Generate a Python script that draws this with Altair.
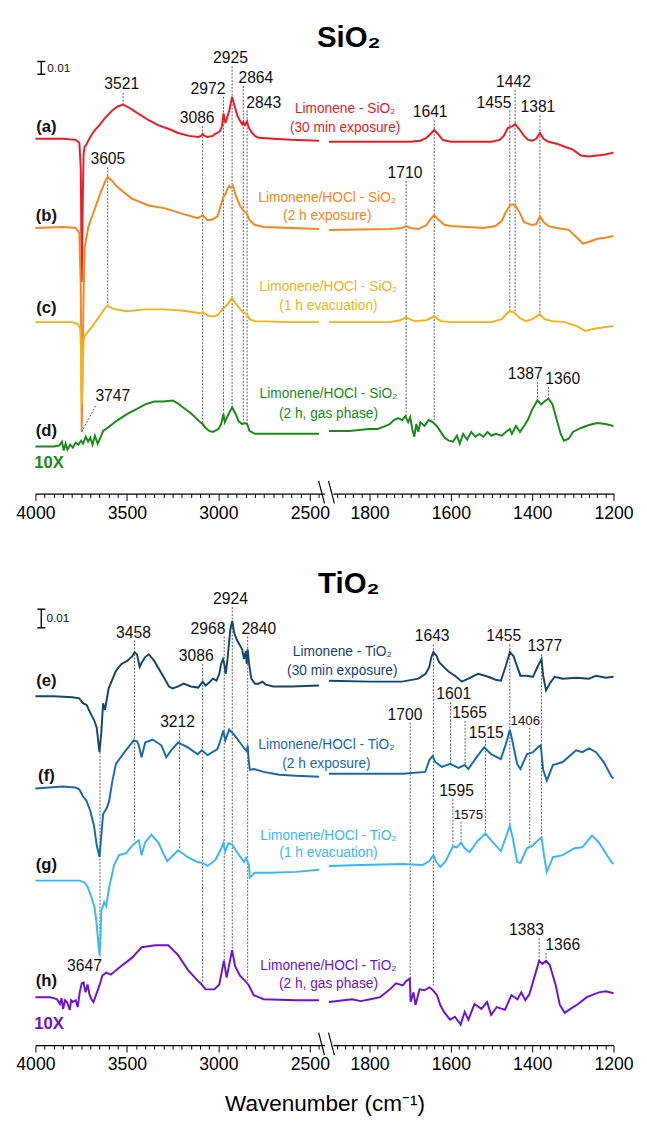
import altair as alt
import pandas as pd

# ---------------- SiO2 spectra (relative absorbance) ----------------
a_l_wn = [4000, 3850, 3780, 3760, 3752, 3747, 3742, 3737, 3731, 3725, 3700, 3675, 3650, 3620, 3580, 3550, 3521, 3490, 3440, 3380, 3330, 3270, 3220, 3160, 3110, 3095, 3086, 3075, 3060, 3030, 3020, 3005, 2990, 2980, 2972, 2962, 2950, 2940, 2925, 2912, 2895, 2880, 2870, 2864, 2855, 2843, 2835, 2820, 2800, 2780, 2700, 2600, 2450]
a_l_ab = [0, 0, -0.0008, -0.0031, -0.0238, -0.1123, -0.0546, -0.0123, -0.0062, -0.0054, 0.0015, 0.0069, 0.0108, 0.0162, 0.0223, 0.0254, 0.0269, 0.0246, 0.0200, 0.0146, 0.0108, 0.0077, 0.0046, 0.0023, 0.0015, 0.0023, 0.0038, 0.0023, 0.0015, 0.0023, 0.0038, 0.0046, 0.0062, 0.0100, 0.0200, 0.0123, 0.0177, 0.0223, 0.0331, 0.0262, 0.0177, 0.0138, 0.0115, 0.0131, 0.0108, 0.0138, 0.0092, 0.0054, 0.0023, 0.0008, 0, -0.0008, -0.0015]
a_r_wn = [1900, 1822, 1700, 1675, 1660, 1650, 1641, 1632, 1620, 1600, 1500, 1480, 1470, 1460, 1455, 1448, 1442, 1432, 1420, 1410, 1400, 1390, 1381, 1372, 1360, 1340, 1320, 1300, 1280, 1260, 1240, 1220, 1200]
a_r_ab = [-0.0023, -0.0023, -0.0023, -0.0015, 0.0008, 0.0038, 0.0069, 0.0038, -0.0008, -0.0023, -0.0023, -0.0008, 0.0023, 0.0085, 0.0092, 0.0100, 0.0115, 0.0077, 0.0023, -0.0008, -0.0015, 0, 0.0046, 0, -0.0023, -0.0038, -0.0062, -0.0085, -0.0131, -0.0138, -0.0131, -0.0123, -0.0108]

b_l_wn = [4000, 3850, 3780, 3760, 3752, 3747, 3742, 3737, 3731, 3710, 3688, 3650, 3620, 3605, 3580, 3559, 3520, 3473, 3382, 3290, 3204, 3113, 3095, 3086, 3075, 3059, 3030, 3005, 2985, 2972, 2960, 2950, 2940, 2930, 2920, 2905, 2880, 2864, 2845, 2830, 2800, 2750, 2600, 2450]
b_l_ab = [0, 0.0008, 0, -0.0038, -0.0462, -0.1600, -0.1077, -0.0538, -0.0154, 0.0015, 0.0100, 0.0254, 0.0362, 0.0400, 0.0369, 0.0331, 0.0285, 0.0231, 0.0177, 0.0154, 0.0115, 0.0077, 0.0092, 0.0100, 0.0085, 0.0062, 0.0069, 0.0092, 0.0185, 0.0246, 0.0269, 0.0308, 0.0331, 0.0315, 0.0331, 0.0254, 0.0169, 0.0138, 0.0115, 0.0062, 0.0023, 0.0008, 0, -0.0008]
b_r_wn = [1900, 1750, 1720, 1710, 1700, 1680, 1660, 1650, 1641, 1630, 1615, 1600, 1560, 1520, 1490, 1475, 1465, 1455, 1448, 1440, 1430, 1420, 1400, 1390, 1381, 1372, 1360, 1340, 1310, 1290, 1275, 1260, 1240, 1220, 1200]
b_r_ab = [-0.0015, -0.0008, 0, 0.0015, 0, -0.0008, 0.0023, 0.0069, 0.0100, 0.0062, 0.0023, 0.0015, 0.0008, 0, 0.0015, 0.0054, 0.0123, 0.0177, 0.0185, 0.0169, 0.0115, 0.0046, 0.0023, 0.0031, 0.0092, 0.0046, 0.0015, 0, -0.0015, -0.0077, -0.0123, -0.0108, -0.0085, -0.0077, -0.0062]

c_l_wn = [4000, 3800, 3770, 3755, 3750, 3747, 3742, 3737, 3731, 3688, 3650, 3620, 3605, 3580, 3560, 3500, 3400, 3300, 3200, 3100, 3086, 3050, 3020, 3000, 2972, 2950, 2925, 2910, 2880, 2864, 2843, 2830, 2800, 2600, 2450]
c_l_ab = [0, 0, -0.0015, -0.0046, -0.0223, -0.0646, -0.0415, -0.0146, -0.0108, -0.0031, 0.0046, 0.0108, 0.0131, 0.0108, 0.0100, 0.0085, 0.0100, 0.0100, 0.0092, 0.0069, 0.0077, 0.0046, 0.0046, 0.0062, 0.0108, 0.0138, 0.0192, 0.0154, 0.0100, 0.0077, 0.0062, 0.0023, 0.0008, 0, 0]
c_r_wn = [1900, 1750, 1725, 1710, 1690, 1660, 1641, 1625, 1600, 1500, 1475, 1462, 1455, 1445, 1430, 1415, 1400, 1381, 1370, 1350, 1320, 1290, 1270, 1250, 1220, 1200]
c_r_ab = [0, 0, 0.0015, 0.0038, 0.0008, 0.0015, 0.0046, 0.0008, 0, 0, 0.0023, 0.0069, 0.0085, 0.0077, 0.0031, 0.0008, 0.0023, 0.0062, 0.0023, 0.0008, 0, -0.0031, -0.0069, -0.0054, -0.0038, -0.0031]

# (d) is shown 10X
d_l_wn = [4000, 3900, 3870, 3855, 3845, 3835, 3825, 3810, 3795, 3780, 3765, 3750, 3740, 3725, 3712, 3700, 3688, 3675, 3660, 3645, 3630, 3600, 3550, 3500, 3450, 3400, 3350, 3300, 3250, 3220, 3200, 3150, 3100, 3086, 3070, 3050, 3030, 3000, 2985, 2972, 2965, 2950, 2925, 2905, 2890, 2870, 2855, 2843, 2830, 2800, 2700, 2600, 2450]
d_l_ab = [0, 0, 0.0008, 0.0038, -0.0031, 0.0023, -0.0023, 0.0015, -0.0008, 0.0031, 0.0015, 0.0046, 0.0023, 0.0077, 0.0038, 0.0069, 0.0015, 0.0085, 0.0023, 0.0069, 0.0123, 0.0154, 0.0208, 0.0254, 0.0292, 0.0331, 0.0354, 0.0354, 0.0362, 0.0338, 0.0315, 0.0262, 0.0192, 0.0177, 0.0146, 0.0123, 0.0115, 0.0138, 0.0177, 0.0254, 0.0192, 0.0238, 0.0308, 0.0254, 0.0200, 0.0177, 0.0185, 0.0177, 0.0123, 0.0100, 0.0100, 0.0100, 0.0100]
d_r_wn = [1900, 1850, 1800, 1780, 1760, 1750, 1740, 1730, 1720, 1712, 1705, 1700, 1695, 1690, 1685, 1680, 1675, 1665, 1655, 1645, 1635, 1625, 1615, 1605, 1595, 1585, 1578, 1570, 1560, 1550, 1540, 1530, 1520, 1510, 1500, 1490, 1475, 1465, 1455, 1450, 1440, 1430, 1420, 1410, 1400, 1390, 1387, 1378, 1370, 1360, 1350, 1340, 1330, 1322, 1310, 1300, 1280, 1260, 1240, 1220, 1200]
d_r_ab = [0.0123, 0.0123, 0.0138, 0.0138, 0.0162, 0.0177, 0.0208, 0.0223, 0.0208, 0.0238, 0.0192, 0.0231, 0.0138, 0.0077, 0.0177, 0.0115, 0.0192, 0.0162, 0.0208, 0.0192, 0.0162, 0.0115, 0.0069, 0.0046, 0.0038, 0.0085, 0.0023, 0.0100, 0.0054, 0.0115, 0.0077, 0.0100, 0.0077, 0.0115, 0.0085, 0.0100, 0.0085, 0.0115, 0.0138, 0.0100, 0.0162, 0.0115, 0.0162, 0.0215, 0.0292, 0.0346, 0.0362, 0.0331, 0.0354, 0.0377, 0.0331, 0.0215, 0.0100, 0.0046, 0.0062, 0.0115, 0.0146, 0.0169, 0.0185, 0.0177, 0.0162]

# ---------------- TiO2 spectra (relative absorbance) ----------------
e_l_wn = [4000, 3900, 3800, 3760, 3740, 3720, 3700, 3680, 3665, 3650, 3640, 3630, 3620, 3600, 3560, 3530, 3500, 3470, 3458, 3445, 3430, 3420, 3400, 3380, 3350, 3300, 3270, 3250, 3220, 3190, 3150, 3110, 3086, 3070, 3050, 3030, 3010, 2995, 2985, 2975, 2968, 2960, 2950, 2935, 2924, 2915, 2900, 2885, 2870, 2860, 2850, 2845, 2840, 2832, 2820, 2800, 2780, 2760, 2740, 2700, 2600, 2450]
e_l_ab = [0, 0, -0.0005, -0.0011, -0.0037, -0.0047, -0.0089, -0.0126, -0.0168, -0.0300, -0.0195, -0.0037, -0.0074, 0.0042, 0.0137, 0.0174, 0.0189, 0.0216, 0.0237, 0.0226, 0.0158, 0.0179, 0.0211, 0.0226, 0.0189, 0.0105, 0.0053, 0.0042, 0.0053, 0.0068, 0.0053, 0.0047, 0.0079, 0.0058, 0.0074, 0.0095, 0.0084, 0.0121, 0.0174, 0.0200, 0.0174, 0.0121, 0.0200, 0.0358, 0.0405, 0.0347, 0.0305, 0.0279, 0.0253, 0.0200, 0.0242, 0.0174, 0.0253, 0.0174, 0.0095, 0.0068, 0.0068, 0.0079, 0.0063, 0.0053, 0.0053, 0.0058]
e_r_wn = [1900, 1800, 1720, 1680, 1662, 1653, 1648, 1643, 1635, 1629, 1615, 1605, 1590, 1573, 1557, 1533, 1508, 1490, 1477, 1465, 1455, 1446, 1429, 1414, 1398, 1386, 1377, 1373, 1366, 1357, 1345, 1325, 1292, 1260, 1243, 1219, 1200]
e_r_ab = [0.0084, 0.0079, 0.0079, 0.0095, 0.0121, 0.0158, 0.0211, 0.0237, 0.0216, 0.0184, 0.0153, 0.0132, 0.0111, 0.0079, 0.0095, 0.0121, 0.0105, 0.0089, 0.0084, 0.0163, 0.0237, 0.0216, 0.0111, 0.0111, 0.0105, 0.0163, 0.0200, 0.0111, 0.0032, 0.0068, 0.0105, 0.0095, 0.0100, 0.0095, 0.0111, 0.0100, 0.0105]

f_l_wn = [4000, 3850, 3780, 3760, 3740, 3720, 3700, 3680, 3665, 3650, 3640, 3630, 3620, 3610, 3597, 3580, 3560, 3506, 3462, 3445, 3435, 3420, 3400, 3360, 3312, 3285, 3258, 3220, 3167, 3113, 3091, 3059, 3005, 2989, 2973, 2962, 2941, 2914, 2882, 2855, 2845, 2840, 2835, 2828, 2807, 2753, 2666, 2575, 2450]
f_l_ab = [0, 0.0011, 0.0005, -0.0005, -0.0042, -0.0068, -0.0121, -0.0200, -0.0305, -0.0368, -0.0253, -0.0137, -0.0121, -0.0105, -0.0068, 0.0037, 0.0132, 0.0205, 0.0258, 0.0253, 0.0232, 0.0168, 0.0247, 0.0263, 0.0232, 0.0168, 0.0205, 0.0247, 0.0221, 0.0184, 0.0205, 0.0179, 0.0211, 0.0258, 0.0311, 0.0258, 0.0316, 0.0289, 0.0247, 0.0211, 0.0200, 0.0232, 0.0158, 0.0100, 0.0105, 0.0089, 0.0074, 0.0068, 0.0063]
f_r_wn = [1900, 1822, 1718, 1663, 1653, 1645, 1638, 1622, 1602, 1581, 1566, 1557, 1533, 1518, 1501, 1477, 1465, 1455, 1449, 1437, 1429, 1413, 1398, 1386, 1379, 1373, 1364, 1349, 1325, 1292, 1277, 1260, 1243, 1224, 1205, 1200]
f_r_ab = [0.0079, 0.0079, 0.0079, 0.0089, 0.0153, 0.0174, 0.0142, 0.0116, 0.0132, 0.0111, 0.0126, 0.0105, 0.0179, 0.0221, 0.0184, 0.0158, 0.0237, 0.0316, 0.0258, 0.0132, 0.0105, 0.0184, 0.0195, 0.0221, 0.0232, 0.0100, 0.0042, 0.0126, 0.0142, 0.0205, 0.0195, 0.0216, 0.0195, 0.0142, 0.0063, 0.0053]

g_l_wn = [4000, 3758, 3731, 3715, 3694, 3677, 3667, 3650, 3645, 3640, 3624, 3613, 3597, 3570, 3543, 3505, 3479, 3452, 3435, 3420, 3400, 3366, 3328, 3301, 3280, 3258, 3220, 3167, 3113, 3086, 3059, 3016, 2989, 2973, 2962, 2946, 2925, 2898, 2860, 2849, 2833, 2828, 2801, 2720, 2575, 2450]
g_l_ab = [0, 0, -0.0011, -0.0032, -0.0089, -0.0142, -0.0216, -0.0400, -0.0321, -0.0163, -0.0116, -0.0137, -0.0037, 0.0084, 0.0137, 0.0147, 0.0179, 0.0205, 0.0216, 0.0137, 0.0205, 0.0247, 0.0205, 0.0147, 0.0105, 0.0126, 0.0163, 0.0126, 0.0100, 0.0095, 0.0079, 0.0111, 0.0163, 0.0200, 0.0158, 0.0200, 0.0195, 0.0153, 0.0100, 0.0121, 0.0084, 0.0016, 0.0042, 0.0042, 0.0047, 0.0058]
g_r_wn = [1900, 1822, 1718, 1670, 1653, 1643, 1636, 1626, 1614, 1595, 1586, 1575, 1566, 1554, 1533, 1515, 1501, 1477, 1465, 1455, 1448, 1437, 1429, 1413, 1398, 1386, 1377, 1370, 1364, 1349, 1325, 1296, 1277, 1253, 1236, 1219, 1205, 1200]
g_r_ab = [0.0079, 0.0084, 0.0089, 0.0084, 0.0105, 0.0137, 0.0100, 0.0074, 0.0100, 0.0184, 0.0179, 0.0205, 0.0174, 0.0153, 0.0216, 0.0253, 0.0216, 0.0158, 0.0232, 0.0295, 0.0232, 0.0100, 0.0095, 0.0174, 0.0189, 0.0216, 0.0232, 0.0121, 0.0047, 0.0126, 0.0137, 0.0174, 0.0179, 0.0242, 0.0205, 0.0147, 0.0100, 0.0089]

# (h) is shown 10X
h_l_wn = [4000, 3920, 3900, 3882, 3866, 3857, 3849, 3838, 3828, 3812, 3805, 3796, 3780, 3769, 3758, 3747, 3737, 3726, 3715, 3705, 3694, 3683, 3667, 3650, 3634, 3613, 3588, 3543, 3473, 3419, 3344, 3274, 3220, 3167, 3113, 3091, 3070, 3022, 2995, 2970, 2955, 2925, 2909, 2882, 2855, 2833, 2807, 2753, 2575, 2450]
h_l_ab = [0, 0, -0.0005, -0.0011, -0.0037, -0.0005, -0.0063, -0.0016, -0.0026, -0.0068, -0.0016, -0.0026, -0.0016, -0.0053, 0.0026, 0.0074, 0.0079, 0.0026, 0.0068, 0.0016, -0.0011, -0.0026, 0.0016, 0.0063, 0.0116, 0.0132, 0.0121, 0.0158, 0.0211, 0.0268, 0.0279, 0.0279, 0.0226, 0.0147, 0.0089, 0.0068, 0.0042, 0.0042, 0.0068, 0.0195, 0.0105, 0.0253, 0.0168, 0.0116, 0.0089, 0.0063, 0.0011, -0.0011, -0.0016, -0.0016]
h_r_wn = [1900, 1863, 1843, 1822, 1798, 1774, 1750, 1735, 1718, 1711, 1701, 1699, 1692, 1687, 1677, 1665, 1653, 1646, 1634, 1626, 1617, 1602, 1590, 1576, 1566, 1557, 1542, 1525, 1511, 1501, 1487, 1467, 1451, 1436, 1427, 1417, 1407, 1395, 1383, 1375, 1366, 1357, 1342, 1332, 1320, 1306, 1287, 1266, 1236, 1219, 1200]
h_r_ab = [-0.0026, -0.0016, -0.0011, -0.0021, -0.0011, 0, 0.0042, 0.0074, 0.0063, 0.0084, 0.0100, -0.0026, 0.0026, -0.0042, 0.0042, 0.0037, 0.0053, 0.0042, 0.0011, -0.0042, -0.0079, -0.0121, -0.0105, -0.0147, -0.0079, -0.0121, -0.0037, -0.0063, -0.0026, -0.0095, -0.0053, -0.0068, 0.0011, -0.0011, 0.0026, -0.0016, 0.0016, 0.0105, 0.0195, 0.0179, 0.0195, 0.0174, 0.0063, -0.0042, -0.0084, -0.0063, -0.0037, 0, 0.0026, 0.0032, 0.0021]

# vertical offsets of the stacked spectra
offsets = {"a": 0.2785, "b": 0.2085, "c": 0.1346, "d": 0.0369,
           "e": 0.1874, "f": 0.1379, "g": 0.0884, "h": 0.0258}

# ---------------- annotations ----------------
# SiO2 peak labels: peak, label wavenumber, label height, line top, line bottom
s_l_peak = [3521, 3086, 2972, 2925, 2864, 2843, 3605]
s_l_lab = [3528, 3116, 3057, 2934, 2795, 2752, 3604]
s_l_ly = [0.3215, 0.2946, 0.3177, 0.3415, 0.3262, 0.3069, 0.2623]
s_l_top = [0.3146, 0.2885, 0.3115, 0.3354, 0.3200, 0.3008, 0.2562]
s_l_bot = [0.3054, 0.0531, 0.0623, 0.0677, 0.0562, 0.0546, 0.1477]
s_r_peak = [1641, 1455, 1442, 1381, 1710, 1387, 1360]
s_r_lab = [1651, 1494, 1446, 1386, 1713, 1417, 1325]
s_r_ly = [0.2992, 0.3069, 0.3231, 0.3031, 0.2515, 0.0938, 0.0900]
s_r_top = [0.2931, 0.3008, 0.3169, 0.2969, 0.2454, 0.0877, 0.0838]
s_r_bot = [0.0577, 0.1431, 0.1431, 0.1408, 0.0600, 0.0731, 0.0746]

# TiO2 peak labels
t_l_peak = [3458, 3086, 2968, 2924, 2840, 3212, 3647]
t_l_lab = [3464, 3121, 3057, 2934, 2779, 3223, 3732]
t_l_ly = [0.2216, 0.2089, 0.2237, 0.2395, 0.2237, 0.1737, 0.0426]
t_l_top = [0.2174, 0.2047, 0.2195, 0.2353, 0.2195, 0.1695, 0.1574]
t_l_bot = [0.1100, 0.0337, 0.0442, 0.0511, 0.0347, 0.1058, 0.0468]
t_r_peak = [1643, 1455, 1377, 1601, 1700, 1565, 1515, 1595, 1383, 1366]
t_r_lab = [1646, 1470, 1369, 1593, 1713, 1554, 1513, 1586, 1414, 1325]
t_r_ly = [0.2195, 0.2195, 0.2142, 0.1884, 0.1774, 0.1784, 0.1679, 0.1363, 0.0616, 0.0537]
t_r_top = [0.2153, 0.2153, 0.2100, 0.1842, 0.1732, 0.1742, 0.1637, 0.1321, 0.0574, 0.0495]
t_r_bot = [0.0321, 0.1179, 0.1111, 0.1511, 0.0353, 0.1500, 0.1142, 0.1074, 0.0453, 0.0447]
t_small_peak = [1406, 1575]
t_small_lab = [1417, 1557]
t_small_ly = [0.1742, 0.1237]
t_small_top = [0.1705, 0.1200]
t_small_bot = [0.1074, 0.1100]

sio2_names = ["Limonene - SiO₂", "Limonene/HOCl - SiO₂", "Limonene/HOCl - SiO₂", "Limonene/HOCl - SiO₂"]
tio2_names = ["Limonene - TiO₂", "Limonene/HOCl - TiO₂", "Limonene/HOCl - TiO₂", "Limonene/HOCl - TiO₂"]
conditions = ["(30 min exposure)", "(2 h exposure)", "(1 h evacuation)", "(2 h, gas phase)"]

left_ticks = list(range(4000, 2419, -50))
right_ticks = list(range(1880, 1199, -20))

# ---------------- style / layout ----------------
FONT = "Liberation Sans"
COLORS = {"a": "#ed1c24", "b": "#f7861e", "c": "#f0b41c", "d": "#1b8a1b",
          "e": "#16466e", "f": "#1b69ad", "g": "#3db7f4", "h": "#6b13d6"}
W = 590
H1, H2 = 451, 459
YT1, YT2 = H1 / 1300, H2 / 1900
LEFT_DOM, LEFT_RNG = [4000, 2420], [0, 295]
RIGHT_DOM, RIGHT_RNG = [1890, 1200], [303.65, 590]


def xenc(side, field="wn", axis=None):
    dom, rng = (LEFT_DOM, LEFT_RNG) if side == "L" else (RIGHT_DOM, RIGHT_RNG)
    return alt.X(f"{field}:Q", scale=alt.Scale(domain=dom, range=rng, nice=False, zero=False),
                 axis=axis, title=None)


def yenc(ytop, field="y"):
    return alt.Y(f"{field}:Q", scale=alt.Scale(domain=[0, ytop], nice=False, zero=False), axis=None)


def make_axis(side, title=None):
    if side == "L":
        vals, major = left_ticks, 500
    else:
        vals, major = right_ticks, 200
    kw = dict(orient="bottom", values=vals, format="d",
              labelExpr=f"datum.value % {major} === 0 ? datum.label : ''",
              tickSize={"condition": {"test": f"datum.value % {major} === 0", "value": 7}, "value": 4},
              labelFontSize=18, labelFont=FONT, labelColor="#000", labelPadding=4,
              labelFlush=False, labelOverlap=False, domainColor="#000", domainWidth=1.2,
              tickColor="#000", tickWidth=1, grid=False)
    if title:
        kw.update(title=title, titleX=295, titleY=60, titleFontSize=23, titleFont=FONT,
                  titleFontWeight="normal", titleColor="#000", titleBaseline="middle", titleAlign="center")
    return alt.Axis(**kw)


def spectra_df(keys, series):
    rows = []
    for key, side, wns, vals in series:
        for w, v in zip(wns, vals, strict=True):
            rows.append({"curve": key, "side": side, "wn": w, "y": round(offsets[key] + v, 5)})
    return pd.DataFrame(rows)


def peaks_df(peak, lab, ly, top, bot):
    return pd.DataFrame({"wn": peak, "lw": lab, "ly": ly, "top": top, "bot": bot,
                         "t": [str(p) for p in peak]})


def panel(keys, series, pk_l, pk_r, pk_small, names, label_y, desc_wn, desc_y, ytop, H,
          bar_y, bar_text_wn, bar_text_y, brk_y, title_text, title_y, axis_title, extra=None):
    cscale = alt.Scale(domain=keys, range=[COLORS[k] for k in keys])
    df = spectra_df(keys, series)
    layers = []
    # dotted guide lines
    for side, pk in (("L", pk_l), ("R", pk_r), ("R", pk_small)):
        if pk is None:
            continue
        layers.append(alt.Chart(pk).mark_rule(strokeDash=[2, 1.5], strokeWidth=0.8, color="#333").encode(
            x=xenc(side), y=yenc(ytop, "top"), y2=alt.Y2("bot:Q")))
    # spectra
    for side in ("L", "R"):
        layers.append(alt.Chart(df[df.side == side]).mark_line(strokeWidth=2).encode(
            x=xenc(side, axis=make_axis(side, axis_title if side == "L" else None)),
            y=yenc(ytop),
            color=alt.Color("curve:N", scale=cscale, legend=None),
            order=alt.Order("wn:Q")))
    # peak labels
    for side, pk, fs in (("L", pk_l, 16), ("R", pk_r, 16), ("R", pk_small, 13.5)):
        if pk is None:
            continue
        layers.append(alt.Chart(pk).mark_text(font=FONT, fontSize=fs, color="#111", baseline="middle").encode(
            x=xenc(side, "lw"), y=yenc(ytop, "ly"), text="t:N"))
    # curve letters and 10X
    letters = pd.DataFrame({"curve": keys + [keys[-1]],
                            "t": [f"({k})" for k in keys] + ["10X"],
                            "wn": [3940, 3940, 3940, 3940, 3925],
                            "y": label_y})
    layers.append(alt.Chart(letters[letters.t.str.startswith("(")]).mark_text(
        font=FONT, fontSize=17, fontWeight="bold", color="#111", baseline="middle").encode(
        x=xenc("L"), y=yenc(ytop), text="t:N"))
    layers.append(alt.Chart(letters[letters.t == "10X"]).mark_text(
        font=FONT, fontSize=17, fontWeight="bold", baseline="middle").encode(
        x=xenc("L"), y=yenc(ytop), text="t:N", color=alt.Color("curve:N", scale=cscale, legend=None)))
    # descriptions
    drows = []
    for i, k in enumerate(keys):
        drows.append({"curve": k, "t": names[i], "wn": desc_wn[i], "y": desc_y[i][0]})
        drows.append({"curve": k, "t": conditions[i], "wn": desc_wn[i], "y": desc_y[i][1]})
    layers.append(alt.Chart(pd.DataFrame(drows)).mark_text(font=FONT, fontSize=14, baseline="middle").encode(
        x=xenc("R"), y=yenc(ytop), text="t:N", color=alt.Color("curve:N", scale=cscale, legend=None)))
    # 0.01 scale bar
    bar = pd.DataFrame({"wn": [3968], "y": [bar_y], "y2": [bar_y + 0.01]})
    caps = pd.DataFrame({"wn": [3990, 3990], "wn2": [3946, 3946], "y": [bar_y, bar_y + 0.01]})
    layers.append(alt.Chart(bar).mark_rule(strokeWidth=1.5, color="#111").encode(
        x=xenc("L"), y=yenc(ytop), y2=alt.Y2("y2:Q")))
    layers.append(alt.Chart(caps).mark_rule(strokeWidth=1.5, color="#111").encode(
        x=xenc("L"), x2=alt.X2("wn2:Q"), y=yenc(ytop)))
    layers.append(alt.Chart(pd.DataFrame({"wn": [bar_text_wn], "y": [bar_text_y], "t": ["0.01"]})).mark_text(
        font=FONT, fontSize=12, color="#111", align="left", baseline="middle").encode(
        x=xenc("L"), y=yenc(ytop), text="t:N"))
    # axis break marks
    brk = pd.DataFrame({"wn": [2452, 2398], "wn2": [2420, 2366], "y": [brk_y[0]] * 2, "y2": [brk_y[1]] * 2})
    layers.append(alt.Chart(brk).mark_rule(strokeWidth=1.2, color="#000").encode(
        x=xenc("L"), x2=alt.X2("wn2:Q"), y=yenc(ytop), y2=alt.Y2("y2:Q")))
    # panel title
    layers.append(alt.Chart(pd.DataFrame({"wn": [1851], "y": [title_y], "t": [title_text]})).mark_text(
        font=FONT, fontSize=30, fontWeight="bold", color="#000", baseline="middle").encode(
        x=xenc("R"), y=yenc(ytop), text="t:N"))
    if extra is not None:
        layers.extend(extra(ytop))
    return alt.layer(*layers).properties(width=W, height=H).resolve_scale(x="independent")


def sio2_extra(ytop):
    lead = pd.DataFrame({"wn": [3747], "wn2": [3667], "y": [0.0485], "y2": [0.0700]})
    lab = pd.DataFrame({"wn": [3577], "y": [0.0762], "t": ["3747"]})
    return [
        alt.Chart(lead).mark_rule(strokeDash=[2, 1.5], strokeWidth=0.8, color="#333").encode(
            x=xenc("L"), x2=alt.X2("wn2:Q"), y=yenc(ytop), y2=alt.Y2("y2:Q")),
        alt.Chart(lab).mark_text(font=FONT, fontSize=16, color="#111", baseline="middle").encode(
            x=xenc("L"), y=yenc(ytop), text="t:N"),
    ]


p1 = panel(
    ["a", "b", "c", "d"],
    [("a", "L", a_l_wn, a_l_ab), ("a", "R", a_r_wn, a_r_ab),
     ("b", "L", b_l_wn, b_l_ab), ("b", "R", b_r_wn, b_r_ab),
     ("c", "L", c_l_wn, c_l_ab), ("c", "R", c_r_wn, c_r_ab),
     ("d", "L", d_l_wn, d_l_ab), ("d", "R", d_r_wn, d_r_ab)],
    peaks_df(s_l_peak, s_l_lab, s_l_ly, s_l_top, s_l_bot),
    peaks_df(s_r_peak, s_r_lab, s_r_ly, s_r_top, s_r_bot),
    None,
    sio2_names,
    [0.2877, 0.2177, 0.1454, 0.0492, 0.0238],
    [1860, 1904, 1901, 1901],
    [(0.3015, 0.2869), (0.2323, 0.2177), (0.1623, 0.1469), (0.0785, 0.0623)],
    YT1, H1,
    0.3292, 3935, 0.3338, (0.0100, -0.0077),
    "SiO₂", 0.3577, None, sio2_extra)

p2 = panel(
    ["e", "f", "g", "h"],
    [("e", "L", e_l_wn, e_l_ab), ("e", "R", e_r_wn, e_r_ab),
     ("f", "L", f_l_wn, f_l_ab), ("f", "R", f_r_wn, f_r_ab),
     ("g", "L", g_l_wn, g_l_ab), ("g", "R", g_r_wn, g_r_ab),
     ("h", "L", h_l_wn, h_l_ab), ("h", "R", h_r_wn, h_r_ab)],
    peaks_df(t_l_peak, t_l_lab, t_l_ly, t_l_top, t_l_bot),
    peaks_df(t_r_peak, t_r_lab, t_r_ly, t_r_top, t_r_bot),
    peaks_df(t_small_peak, t_small_lab, t_small_ly, t_small_top, t_small_bot),
    tio2_names,
    [0.1958, 0.1447, 0.0968, 0.0347, 0.0111],
    [1867, 1906, 1901, 1901],
    [(0.2111, 0.2011), (0.1611, 0.1511), (0.1126, 0.1032), (0.0426, 0.0326)],
    YT2, H2,
    0.2242, 3940, 0.2295, (0.0068, -0.0053),
    "TiO₂", 0.2474, "Wavenumber (cm⁻¹)")

chart = alt.vconcat(p1, p2, spacing=104, bounds="flush").resolve_scale(
    color="independent"
).properties(
    padding={"left": 7, "top": 3, "right": 5, "bottom": 5}
).configure_view(stroke=None)

chart.save("out.html", embed_options={"renderer": "svg", "actions": False})
